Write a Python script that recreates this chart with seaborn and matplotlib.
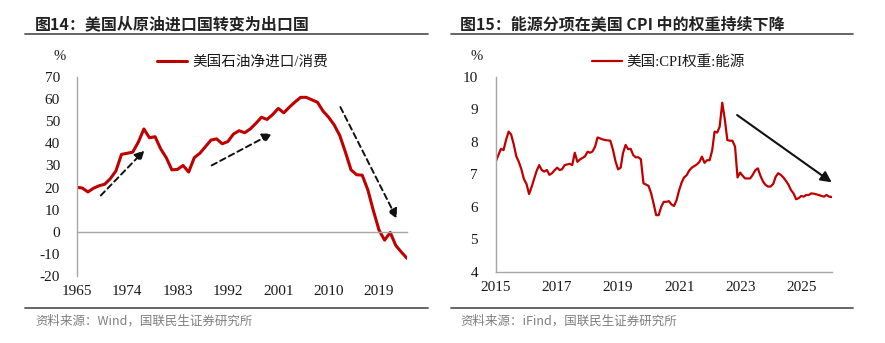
import matplotlib
matplotlib.use("Agg")
import matplotlib.pyplot as plt
from matplotlib.lines import Line2D
import numpy as np
import pandas as pd
import seaborn as sns

# ---------------- data ----------------
left_years = list(range(1965, 2025))
left_values = [20.1, 19.8, 18.0, 19.7, 20.8, 21.5, 24.0, 27.5, 35.0, 35.5,
               36.0, 40.5, 46.5, 42.5, 43.0, 37.5, 33.5, 28.0, 28.2, 30.0,
               27.0, 33.5, 35.5, 38.5, 41.5, 42.0, 39.8, 40.8, 44.2, 45.7,
               44.8, 46.5, 49.0, 51.8, 50.8, 53.0, 55.8, 53.8, 56.4, 58.7,
               60.8, 60.8, 59.7, 58.6, 54.6, 51.8, 48.3, 43.5, 36.0, 28.0,
               25.8, 25.6, 19.0, 9.5, 0.8, -3.8, -0.3, -6.2, -9.2, -12.0]
left_label = "美国石油净进口/消费"
left_xticks = [1965, 1974, 1983, 1992, 2001, 2010, 2019]
left_yticks = list(range(-20, 71, 10))

right_values = [
    # 2015
    7.41, 7.60, 7.78, 7.74, 8.05, 8.31, 8.22, 7.92, 7.55, 7.38, 7.15, 6.85,
    # 2016
    6.70, 6.39, 6.60, 6.85, 7.10, 7.28, 7.13, 7.08, 7.13, 6.98, 7.03, 7.12,
    # 2017
    7.20, 7.13, 7.15, 7.28, 7.30, 7.32, 7.28, 7.66, 7.38, 7.45, 7.50, 7.55,
    # 2018
    7.69, 7.66, 7.70, 7.85, 8.13, 8.10, 8.07, 8.05, 8.04, 8.03, 7.75, 7.40,
    # 2019
    7.15, 7.20, 7.65, 7.90, 7.77, 7.78, 7.59, 7.52, 7.52, 7.46, 6.72, 6.68,
    # 2020
    6.64, 6.41, 6.10, 5.74, 5.74, 6.00, 6.15, 6.15, 6.17, 6.07, 6.02, 6.20,
    # 2021
    6.51, 6.75, 6.90, 6.97, 7.11, 7.20, 7.25, 7.30, 7.38, 7.54, 7.35, 7.43,
    # 2022
    7.43, 7.74, 8.31, 8.28, 8.46, 9.20, 8.70, 8.05, 8.03, 8.03, 7.85, 6.90,
    # 2023
    7.05, 6.95, 6.87, 6.87, 6.87, 6.98, 7.12, 7.18, 6.95, 6.78, 6.67, 6.62,
    # 2024
    6.62, 6.70, 6.92, 7.03, 6.98, 6.90, 6.80, 6.68, 6.51, 6.41, 6.23, 6.26,
    # 2025
    6.33, 6.31, 6.36, 6.36, 6.41, 6.40, 6.38, 6.36, 6.33, 6.31, 6.36, 6.31,
    # 2026
    6.30,
]
right_dates = pd.date_range("2015-01-01", periods=len(right_values), freq="MS")
right_label = "美国:CPI权重:能源"
right_xtick_years = [2015, 2017, 2019, 2021, 2023, 2025]
right_yticks = [4, 5, 6, 7, 8, 9, 10]

left_title = "图14：美国从原油进口国转变为出口国"
right_title = "图15：能源分项在美国 CPI 中的权重持续下降"
left_source = "资料来源：Wind，国联民生证券研究所"
right_source = "资料来源：iFind，国联民生证券研究所"

# annotation arrows (start -> end) in data coordinates
left_arrows = [((1969.3, 16.4), (1977.1, 36.8)),
               ((1989.1, 30.0), (1999.9, 44.5)),
               ((2012.1, 56.4), (2022.2, 5.9))]
right_arrow = ((2022.9, 8.82), (2026.0, 6.75))

# ---------------- style ----------------
sns.set_style("white")
plt.rcParams["font.family"] = ["Liberation Serif", "Noto Sans CJK SC"]
plt.rcParams["axes.unicode_minus"] = False

RED = "#C00000"
AXC = "#a6a6a6"
W, H = 885, 343

fig = plt.figure(figsize=(W / 100, H / 100), dpi=100)
axL = fig.add_axes([76.7 / W, 1 - 276 / H, (407 - 76.7) / W, 199 / H])
axR = fig.add_axes([496 / W, 1 - 271.7 / H, (831.7 - 496) / W, 195 / H])

df_left = pd.DataFrame({"year": left_years, "value": left_values})
df_right = pd.DataFrame({"date": right_dates, "value": right_values})

sns.lineplot(data=df_left, x="year", y="value", ax=axL, color=RED, lw=2.2,
             label=left_label)
sns.lineplot(data=df_right, x="date", y="value", ax=axR, color=RED, lw=1.6,
             label=right_label)

# ----- left axes -----
axL.set_xlim(1965, 2024)
axL.set_ylim(-20, 70)
axL.set_xticks(left_xticks)
axL.set_xticklabels([str(y) for y in left_xticks])
axL.set_yticks(left_yticks)
axL.set_yticklabels([str(v) for v in left_yticks])
for s in ["top", "right"]:
    axL.spines[s].set_visible(False)
axL.spines["bottom"].set_position(("data", 0))
axL.spines["bottom"].set_color(AXC)
axL.spines["left"].set_color(AXC)
axL.spines["bottom"].set_linewidth(1.0)
axL.spines["left"].set_linewidth(1.0)
axL.tick_params(axis="x", direction="in", length=4, color=AXC, pad=38,
                labelsize=11, labelcolor="#1a1a1a")
axL.tick_params(axis="y", direction="in", length=4, color=AXC, pad=12,
                labelsize=11, labelcolor="#1a1a1a")
axL.set_xlabel("")
axL.set_ylabel("")
axL.grid(False)

for (x0, y0), (x1, y1) in left_arrows:
    axL.annotate("", xy=(x1, y1), xytext=(x0, y0),
                 arrowprops=dict(arrowstyle="-|>", linestyle=(0, (3, 2)),
                                 lw=1.4, color="#111111", mutation_scale=14,
                                 shrinkA=0, shrinkB=0))

# ----- right axes -----
axR.set_xlim(pd.Timestamp("2015-01-01"), pd.Timestamp("2026-01-01"))
axR.set_ylim(4, 10)
axR.set_xticks([pd.Timestamp(f"{y}-01-01") for y in right_xtick_years])
axR.set_xticklabels([str(y) for y in right_xtick_years])
axR.set_yticks(right_yticks)
axR.set_yticklabels([str(v) for v in right_yticks])
for s in ["top", "right"]:
    axR.spines[s].set_visible(False)
for s in ["bottom", "left"]:
    axR.spines[s].set_color(AXC)
    axR.spines[s].set_linewidth(1.0)
axR.tick_params(axis="x", direction="in", length=4, color=AXC, pad=7,
                labelsize=11, labelcolor="#1a1a1a")
axR.tick_params(axis="y", direction="in", length=4, color=AXC, pad=13,
                labelsize=11, labelcolor="#1a1a1a")
axR.set_xlabel("")
axR.set_ylabel("")
axR.grid(False)

(rx0, ry0), (rx1, ry1) = right_arrow
def yr_to_date(v):
    y = int(v)
    return pd.Timestamp(f"{y}-01-01") + pd.Timedelta(days=(v - y) * 365.25)
axR.annotate("", xy=(yr_to_date(rx1), ry1), xytext=(yr_to_date(rx0), ry0),
             arrowprops=dict(arrowstyle="-|>", lw=1.5, color="#111111",
                             mutation_scale=16, shrinkA=0, shrinkB=0))

# ----- legends -----
for ax, x in [(axL, 157), (axR, 591.7)]:
    ax.legend(loc="center left", bbox_to_anchor=(x / W, 1 - 62 / H),
              bbox_transform=fig.transFigure, frameon=False, fontsize=10.5,
              handlelength=2.05, handletextpad=0.35, borderpad=0,
              borderaxespad=0)
    for t in ax.get_legend().get_texts():
        t.set_color("#1a1a1a")

# ----- % labels -----
fig.text(60 / W, 1 - 57 / H, "%", ha="center", va="center", fontsize=10.5,
         color="#1a1a1a")
fig.text(477 / W, 1 - 56 / H, "%", ha="center", va="center", fontsize=10.5,
         color="#1a1a1a")

# ----- titles, rules, sources -----
title_font = ["Noto Sans CJK SC", "DejaVu Sans"]
fig.text(35 / W, 1 - 24 / H, left_title, ha="left", va="center",
         fontsize=11.5, fontweight="bold", family=title_font, color="#222222")
fig.text(460 / W, 1 - 24 / H, right_title, ha="left", va="center",
         fontsize=11.5, fontweight="bold", family=title_font, color="#222222")

for (xa, xb) in [(25, 428), (451, 853)]:
    for yy in (34, 308):
        fig.add_artist(Line2D([xa / W, xb / W], [1 - yy / H, 1 - yy / H],
                              transform=fig.transFigure, color="#595959",
                              lw=1.3))

fig.text(35 / W, 1 - 321 / H, left_source, ha="left", va="center",
         fontsize=9, family=title_font, color="#7f7f7f")
fig.text(460 / W, 1 - 321 / H, right_source, ha="left", va="center",
         fontsize=9, family=title_font, color="#7f7f7f")

fig.savefig("out.png", dpi=100, facecolor="white")
